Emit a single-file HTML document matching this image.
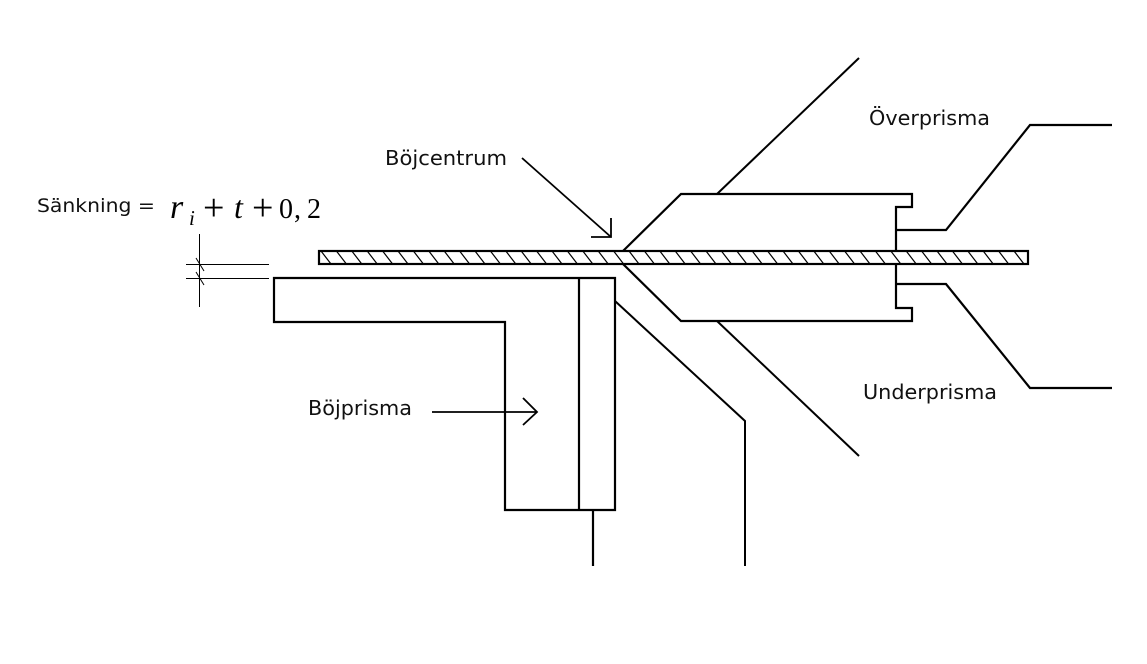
<!DOCTYPE html>
<html>
<head>
<meta charset="utf-8">
<style>
  html,body{margin:0;padding:0;background:#fff;}
  svg{display:block;}
  .lbl{font-family:"DejaVu Sans","Liberation Sans",sans-serif;fill:#111;}
  .m{font-family:"Liberation Serif",serif;fill:#000;}
</style>
</head>
<body>
<svg width="1147" height="664" viewBox="0 0 1147 664" xmlns="http://www.w3.org/2000/svg">
  <rect width="1147" height="664" fill="#fff"/>
  <defs>
    <clipPath id="sheet">
      <rect x="319" y="251" width="709" height="13"/>
    </clipPath>
  </defs>

  <!-- hatching of sheet -->
  <g clip-path="url(#sheet)" stroke="#000" stroke-width="1.2">
    <path d="M321,251 l10,13 M336.4,251 l10,13 M351.8,251 l10,13 M367.2,251 l10,13 M382.6,251 l10,13 M398,251 l10,13 M413.4,251 l10,13 M428.8,251 l10,13 M444.2,251 l10,13 M459.6,251 l10,13 M475,251 l10,13 M490.4,251 l10,13 M505.8,251 l10,13 M521.2,251 l10,13 M536.6,251 l10,13 M552,251 l10,13 M567.4,251 l10,13 M582.8,251 l10,13 M598.2,251 l10,13 M613.6,251 l10,13 M629,251 l10,13 M644.4,251 l10,13 M659.8,251 l10,13 M675.2,251 l10,13 M690.6,251 l10,13 M706,251 l10,13 M721.4,251 l10,13 M736.8,251 l10,13 M752.2,251 l10,13 M767.6,251 l10,13 M783,251 l10,13 M798.4,251 l10,13 M813.8,251 l10,13 M829.2,251 l10,13 M844.6,251 l10,13 M860,251 l10,13 M875.4,251 l10,13 M890.8,251 l10,13 M906.2,251 l10,13 M921.6,251 l10,13 M937,251 l10,13 M952.4,251 l10,13 M967.8,251 l10,13 M983.2,251 l10,13 M998.6,251 l10,13 M1014,251 l10,13"/>
  </g>
  <rect x="319" y="251" width="709" height="13" fill="none" stroke="#000" stroke-width="2.2"/>

  <g fill="none" stroke="#000" stroke-width="2.2" stroke-linejoin="miter">
    <path d="M623,251 L681,194 L912,194 L912,207 L896,207 L896,251"/>
    <path d="M623,264 L681,321 L912,321 L912,308 L896,308 L896,264"/>
    <path d="M896,230 L946,230 L1030,125 L1112,125"/>
    <path d="M896,284 L946,284 L1030,388 L1112,388"/>
    <path d="M274,278 L615,278 L615,510 L505,510 L505,322 L274,322 Z"/>
    <path d="M579,278 L579,510"/>
    <path d="M593,510 L593,566"/>
  </g>

  <g fill="none" stroke="#000" stroke-width="2">
    <path d="M717,194 L859,58"/>
    <path d="M717,321 L859,456"/>
    <path d="M615,301 L745,421 L745,566"/>
  </g>

  <g fill="none" stroke="#000" stroke-width="1.8">
    <path d="M522,158 L611,237"/>
    <path d="M611,218 L611,237 L591,237"/>
    <path d="M432,412 L537,412"/>
    <path d="M523,398 L537,412 L523,425"/>
  </g>

  <g fill="none" stroke="#000" stroke-width="1">
    <path d="M199.5,234 L199.5,307"/>
    <path d="M186,264.5 L269,264.5"/>
    <path d="M186,278.5 L269,278.5"/>
    <path d="M196,258 L204,271"/>
    <path d="M196,272 L204,285"/>
  </g>

  <text class="lbl" x="385" y="165" font-size="20" textLength="122" lengthAdjust="spacingAndGlyphs">Böjcentrum</text>
  <text class="lbl" x="869" y="125" font-size="20" textLength="121" lengthAdjust="spacingAndGlyphs">Överprisma</text>
  <text class="lbl" x="863" y="399" font-size="20" textLength="134" lengthAdjust="spacingAndGlyphs">Underprisma</text>
  <text class="lbl" x="308" y="415" font-size="20" textLength="104" lengthAdjust="spacingAndGlyphs">Böjprisma</text>
  <text class="lbl" x="37" y="212" font-size="19" textLength="118" lengthAdjust="spacingAndGlyphs">Sänkning =</text>

  <text class="m" x="170" y="218" font-size="34" font-style="italic">r</text>
  <text class="m" x="189" y="225" font-size="21" font-style="italic">i</text>
  <text class="m" x="203" y="220" font-size="38">+</text>
  <text class="m" x="234" y="218" font-size="32" font-style="italic">t</text>
  <text class="m" x="252" y="220" font-size="38">+</text>
  <text class="m" x="279" y="218" font-size="28">0</text>
  <text class="m" x="294" y="218" font-size="28">,</text>
  <text class="m" x="307" y="218" font-size="28">2</text>
</svg>
</body>
</html>
